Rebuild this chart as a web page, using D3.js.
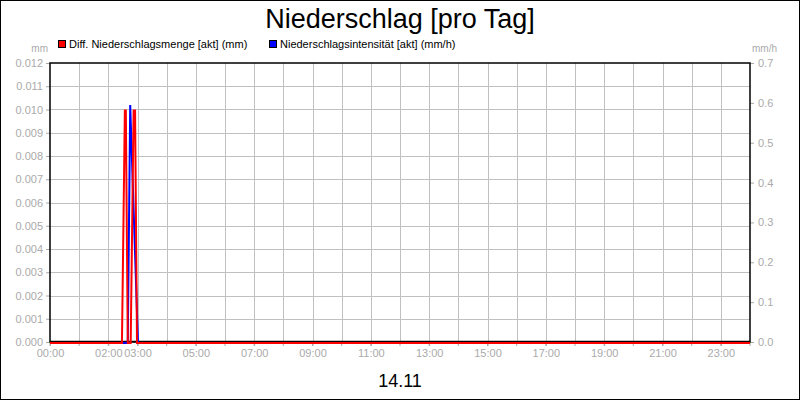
<!DOCTYPE html>
<meta charset="utf-8">
<style>
body { margin: 0; background: #fff; }
svg text { font-family: "Liberation Sans", Arial, sans-serif; }
.tick text { fill: #aaa; font-size: 11px; }
.grid line { stroke: #c0c0c0; stroke-width: 1; }
</style>
<svg class="chart" width="800" height="400"></svg>
<script src="https://d3js.org/d3.v7.min.js"></script>
<script>

// time of day (hh:mm) and values
var mengeTimes = ["00:00", "02:28", "02:34", "02:36", "02:40", "02:46", "02:52", "02:55", "02:59", "24:00"];
var mengeValues = [0, 0, 0.010, 0.010, 0, 0, 0.010, 0.010, 0, 0];
var intensTimes = ["00:00", "02:40", "02:45", "03:01", "24:00"];
var intensValues = [0, 0, 0.597, 0, 0];
var xTickLabels = ["00:00", "02:00", "03:00", "05:00", "07:00", "09:00", "11:00", "13:00", "15:00", "17:00", "19:00", "21:00", "23:00"];
var leftTicks = [0, 0.001, 0.002, 0.003, 0.004, 0.005, 0.006, 0.007, 0.008, 0.009, 0.010, 0.011, 0.012];
var rightTicks = [0, 0.1, 0.2, 0.3, 0.4, 0.5, 0.6, 0.7];

function toHours(s) {
	var p = s.split(":");
	return +p[0] + p[1] / 60;
}

var margin = {top: 63, right: 50, bottom: 58, left: 50},
    width = 800 - margin.left - margin.right,
    height = 400 - margin.top - margin.bottom;

var svg = d3.select(".chart");

svg.append("rect")
	.attr("x", 0.5).attr("y", 0.5)
	.attr("width", 799).attr("height", 399)
	.attr("fill", "#fff").attr("stroke", "#000");

var chart = svg.append("g")
	.attr("transform", "translate(" + margin.left + "," + margin.top + ")");

var x = d3.scaleLinear().domain([0, 24]).range([0, width]);
var y = d3.scaleLinear().domain([0, 0.012]).range([height, 0]);
var y2 = d3.scaleLinear().domain([0, 0.7]).range([height, 0]);

// grid
chart.append("g").attr("class", "grid")
	.selectAll("line").data(d3.range(1, 24)).enter().append("line")
	.attr("x1", function(d) { return Math.round(x(d)) + 0.5; })
	.attr("x2", function(d) { return Math.round(x(d)) + 0.5; })
	.attr("y1", 0).attr("y2", height);

chart.append("g").attr("class", "grid")
	.selectAll("line").data(leftTicks.slice(1, -1)).enter().append("line")
	.attr("y1", function(d) { return Math.round(y(d)) + 0.5; })
	.attr("y2", function(d) { return Math.round(y(d)) + 0.5; })
	.attr("x1", 0).attr("x2", width);

// axes
var xAxis = d3.axisBottom(x)
	.tickValues(xTickLabels.map(toHours))
	.tickFormat(function(d, i) { return xTickLabels[i]; })
	.tickSize(4).tickPadding(3);

var gx = chart.append("g")
	.attr("class", "x axis")
	.attr("transform", "translate(0," + height + ")")
	.call(xAxis);
gx.select(".domain").remove();
gx.selectAll(".tick line").attr("stroke", "#aaa");

chart.append("g").attr("class", "x minor")
	.attr("transform", "translate(0," + height + ")")
	.selectAll("line").data(d3.range(0, 25)).enter().append("line")
	.attr("x1", function(d) { return x(d); })
	.attr("x2", function(d) { return x(d); })
	.attr("y1", 0).attr("y2", 4)
	.attr("stroke", "#aaa");

var gy = chart.append("g")
	.attr("class", "y axis")
	.call(d3.axisLeft(y).tickValues(leftTicks).tickFormat(d3.format(".3f")).tickSize(4).tickPadding(3));
gy.select(".domain").remove();
gy.selectAll(".tick line").attr("stroke", "#aaa");

var gy2 = chart.append("g")
	.attr("class", "y2 axis")
	.attr("transform", "translate(" + width + ",0)")
	.call(d3.axisRight(y2).tickValues(rightTicks).tickFormat(d3.format(".1f")).tickSize(4).tickPadding(4));
gy2.select(".domain").remove();
gy2.selectAll(".tick line").attr("stroke", "#aaa");

// frame
chart.append("rect")
	.attr("x", 0).attr("y", 0)
	.attr("width", width).attr("height", height)
	.attr("fill", "none").attr("stroke", "#000").attr("stroke-width", 1.5);

// series
var line1 = d3.line()
	.x(function(d, i) { return x(toHours(mengeTimes[i])); })
	.y(function(d) { return y(d); });

var line2 = d3.line()
	.x(function(d, i) { return x(toHours(intensTimes[i])); })
	.y(function(d) { return y2(d); });

chart.append("line")
	.attr("x1", 0).attr("x2", width)
	.attr("y1", height - 0.5).attr("y2", height - 0.5)
	.attr("stroke", "#000").attr("stroke-width", 1.5);

var series = chart.append("g").attr("transform", "translate(0,1)");

series.append("path")
	.datum(intensValues)
	.attr("d", line2)
	.attr("fill", "none").attr("stroke", "#0000ff").attr("stroke-width", 2);

series.append("path")
	.datum(mengeValues)
	.attr("d", line1)
	.attr("fill", "none").attr("stroke", "#ff0000").attr("stroke-width", 2);

// title, units, legend
svg.append("text")
	.attr("x", 400).attr("y", 28)
	.attr("text-anchor", "middle")
	.style("font-size", "27px")
	.text("Niederschlag [pro Tag]");

svg.append("text")
	.attr("x", 48).attr("y", 52)
	.attr("text-anchor", "end")
	.style("font-size", "10px").style("fill", "#aaa")
	.text("mm");

svg.append("text")
	.attr("x", 752).attr("y", 52)
	.style("font-size", "10px").style("fill", "#aaa")
	.text("mm/h");

var legend = [
	{label: "Diff. Niederschlagsmenge [akt] (mm)", color: "#ff0000", x: 58},
	{label: "Niederschlagsintensität [akt] (mm/h)", color: "#0000ff", x: 269}
];

var lg = svg.selectAll(".legend").data(legend).enter().append("g")
	.attr("class", "legend")
	.attr("transform", function(d) { return "translate(" + d.x + ",40)"; });

lg.append("rect")
	.attr("x", 0.5).attr("y", 0.5)
	.attr("width", 7).attr("height", 7)
	.attr("fill", function(d) { return d.color; })
	.attr("stroke", "#000");

lg.append("text")
	.attr("x", 11).attr("y", 8)
	.style("font-size", "11px")
	.text(function(d) { return d.label; });

svg.append("text")
	.attr("x", 400).attr("y", 387)
	.attr("text-anchor", "middle")
	.style("font-size", "18px")
	.text("14.11");

</script>
